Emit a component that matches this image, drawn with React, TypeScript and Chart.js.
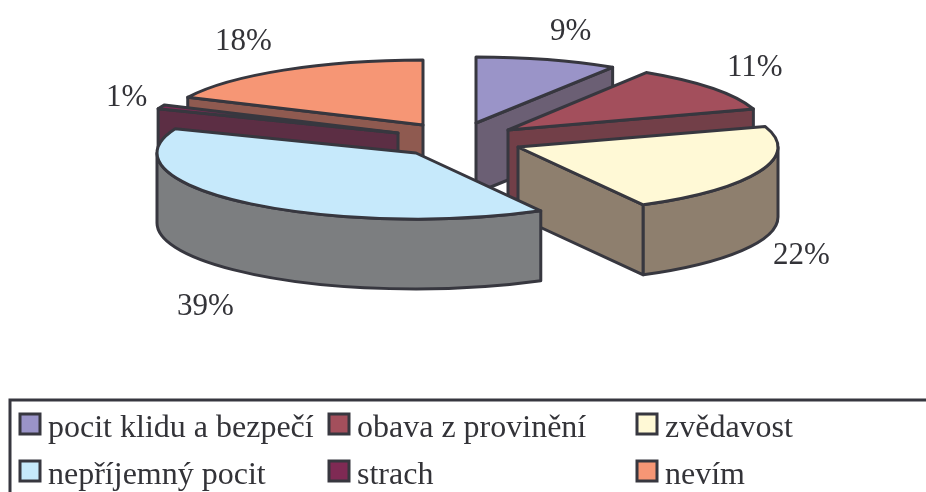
import React, { useEffect, useRef } from "react";
import { Chart, registerables } from "chart.js";

Chart.register(...registerables);

const categories = ["pocit klidu a bezpečí", "obava z provinění", "zvědavost", "nepříjemný pocit", "strach", "nevím"];
const shares = [9, 11, 22, 39, 1, 18];
const topColors = ["#9a94c8", "#a34f5c", "#fff9d6", "#c6e9fb", "#7f2a54", "#f69675"];
const sideColors = ["#6b5f74", "#723f48", "#8e7f6e", "#7c7e80", "#5c2e44", "#8f5a50"];
const INK = "#37373f";
const LABEL_FONT = "31px 'Liberation Serif'";
const LEGEND_FONT = "32px 'Liberation Serif'";
const DEPTH = 70;

// Exploded-slice placement in the fake 3D view: slice tip and ellipse radii per slice.
const tipX = [476, 508, 518, 416, 398, 423];
const tipY = [123, 130, 147, 153, 133, 125];
const radiusX = [255, 258, 260, 259, 258, 260];
const radiusY = [66, 68, 66, 66, 66, 65];
const paintOrder = [5, 0, 4, 1, 2, 3];
const labelX = [550, 727, 773, 177, 106, 215];
const labelY = [40, 76, 264, 315, 106, 50];
const legendColX = [20, 329, 637];
const legendRowY = [414, 461];

const pie3d = {
  id: "pie3d",
  beforeDatasetDraw(chart: any) {
    const ctx: CanvasRenderingContext2D = chart.ctx;
    const arcs = chart.getDatasetMeta(0).data;
    ctx.save();
    ctx.lineWidth = 3;
    ctx.lineJoin = "round";
    ctx.strokeStyle = INK;
    const paint = (fill: string) => {
      ctx.closePath();
      ctx.fillStyle = fill;
      ctx.fill();
      ctx.stroke();
    };
    for (const i of paintOrder) {
      const a = arcs[i];
      const x = tipX[i];
      const y = tipY[i];
      const k = radiusX[i] / a.outerRadius;
      const rx = a.outerRadius * k;
      const ry = radiusY[i];
      const s = a.startAngle;
      const e = a.endAngle;
      const px = (t: number) => x + rx * Math.cos(t);
      const py = (t: number) => y + ry * Math.sin(t);
      // Radial walls facing the viewer
      for (const [t, normal] of [[s, s - Math.PI / 2], [e, e + Math.PI / 2]]) {
        if (Math.sin(normal) > 0.05) {
          ctx.beginPath();
          ctx.moveTo(x, y);
          ctx.lineTo(px(t), py(t));
          ctx.lineTo(px(t), py(t) + DEPTH);
          ctx.lineTo(x, y + DEPTH);
          paint(sideColors[i]);
        }
      }
      // Outer rim facing the viewer
      const from = Math.max(s, 0);
      const to = Math.min(e, Math.PI);
      if (to > from) {
        ctx.beginPath();
        ctx.ellipse(x, y, rx, ry, 0, from, to);
        ctx.ellipse(x, y + DEPTH, rx, ry, 0, to, from, true);
        paint(sideColors[i]);
      }
      // Top face
      ctx.beginPath();
      ctx.moveTo(x, y);
      ctx.ellipse(x, y, rx, ry, 0, s, e);
      paint(topColors[i]);
    }
    ctx.restore();
    return false;
  },
  afterDraw(chart: any) {
    const ctx: CanvasRenderingContext2D = chart.ctx;
    const labels: string[] = chart.data.labels;
    const ds = chart.data.datasets[0];
    ctx.save();
    ctx.font = LABEL_FONT;
    ctx.textAlign = "left";
    ctx.textBaseline = "alphabetic";
    ctx.fillStyle = "#333338";
    ds.data.forEach((v: number, i: number) => ctx.fillText(`${v}%`, labelX[i], labelY[i]));
    ctx.strokeStyle = INK;
    ctx.lineWidth = 3;
    ctx.strokeRect(10, 400, 930, 110);
    ctx.font = LEGEND_FONT;
    labels.forEach((name, i) => {
      const sx = legendColX[i % 3];
      const sy = legendRowY[Math.floor(i / 3)];
      ctx.fillStyle = ds.backgroundColor[i];
      ctx.fillRect(sx, sy, 20, 20);
      ctx.strokeRect(sx, sy, 20, 20);
      ctx.fillStyle = "#333338";
      ctx.fillText(name, sx + 28, sy + 23);
    });
    ctx.restore();
  },
};

export default function App() {
  const ref = useRef<HTMLCanvasElement>(null);
  useEffect(() => {
    document.body.style.margin = "0";
    const chart = new Chart(ref.current!, {
      type: "pie",
      data: {
        labels: categories,
        datasets: [{ data: shares, backgroundColor: topColors, borderWidth: 0 }],
      },
      options: {
        responsive: false,
        animation: false,
        plugins: { legend: { display: false }, tooltip: { enabled: false } },
      },
      plugins: [pie3d],
    } as any);
    return () => chart.destroy();
  }, []);
  return <canvas ref={ref} width={926} height={492} style={{ display: "block" }} />;
}
